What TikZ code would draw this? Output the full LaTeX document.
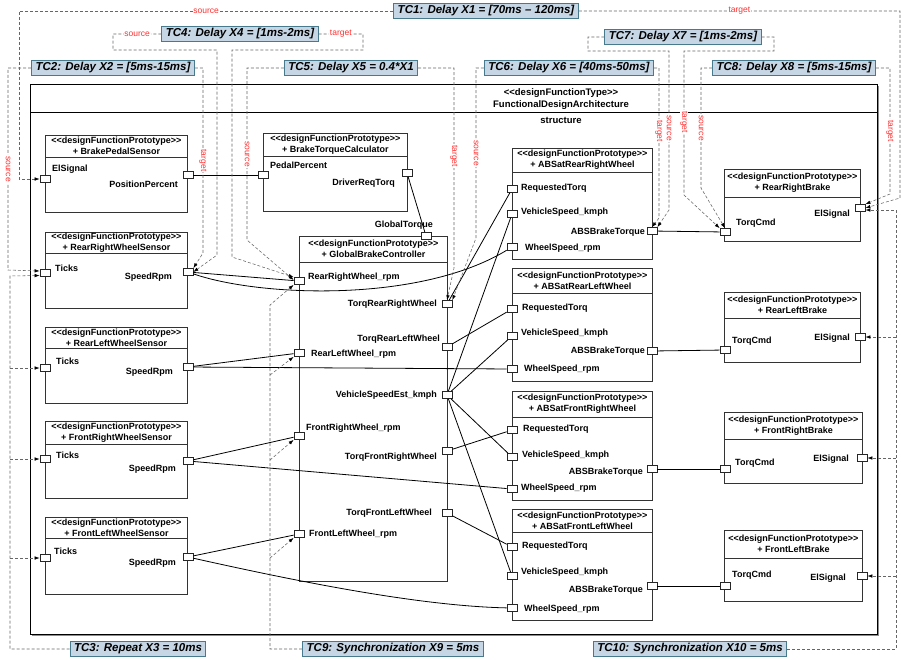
\documentclass[tikz,border=0pt]{standalone}
\usepackage{fontspec}
\setmainfont{Liberation Sans}
\usetikzlibrary{arrows.meta}
\definecolor{tcfill}{RGB}{199,214,228}
\definecolor{tcedge}{RGB}{72,122,142}
\definecolor{lblred}{RGB}{255,48,48}

\begin{document}
\begin{tikzpicture}[x=1pt, y=-1pt,
    every node/.style={font=\fontsize{9}{11}\selectfont\bfseries, inner sep=0pt},
    comp/.style={draw=black!80, line width=0.8pt, fill=white, anchor=north west, minimum width=142},
    sepline/.style={draw=black!80, line width=0.8pt},
    hd/.style={align=center},
    port/.style={draw=black!85, line width=0.7pt, fill=white, minimum width=10, minimum height=7},
    pl/.style={anchor=west, text height=6.6pt, text depth=1.9pt},
    pr/.style={anchor=east, text height=6.6pt, text depth=1.9pt},
    wire/.style={draw=black, line width=0.8pt},
    tc/.style={draw=tcedge, fill=tcfill, line width=1pt, font=\fontsize{11.5}{13}\selectfont\bfseries\itshape, inner xsep=4pt, inner ysep=1pt, minimum height=15},
    tcl/.style={draw=black!60, line width=0.55pt, dash pattern=on 3pt off 2pt, -{Latex[length=5pt,width=3.5pt,color=black]}},
    lab/.style={font=\fontsize{8.5}{9}\selectfont, text=lblred, fill=white, inner sep=0.8pt},
    rlab/.style={lab, rotate=-90}
  ]
  \useasboundingbox (0,0) rectangle (901,659);

  \draw[black!45, line width=1.4pt] (878.5,86) -- (878.5,635.5) -- (32,635.5);
  \node[comp, draw=black, line width=1pt, minimum width=847, minimum height=550] (fda) at (30,84) {};
  \draw[sepline, draw=black, line width=1pt] ([yshift=-28pt]fda.north west) -- ([yshift=-28pt]fda.north east);
  \node[font=\fontsize{9.5}{12}\selectfont\bfseries, align=center] (fda-h) at (561,99) {<{}<designFunctionType>{}>\\FunctionalDesignArchitecture};
  \node[font=\fontsize{9.5}{12}\selectfont\bfseries] (fda-s) at (561,120) {structure};

  \node[comp, minimum height=77] (bps) at (45,135) {};
  \node[hd] (bps-h) at ([yshift=-11pt]bps.north) {<{}<designFunctionPrototype>{}>\\+ BrakePedalSensor};
  \draw[sepline] ([yshift=-22pt]bps.north west) -- ([yshift=-22pt]bps.north east);
  \node[comp, minimum width=144, minimum height=78] (btc) at (263,133) {};
  \node[hd] (btc-h) at ([yshift=-11.5pt]btc.north) {<{}<designFunctionPrototype>{}>\\+ BrakeTorqueCalculator};
  \draw[sepline] ([yshift=-23pt]btc.north west) -- ([yshift=-23pt]btc.north east);
  \node[comp, minimum width=148, minimum height=345] (gbc) at (299,236) {};
  \node[hd] (gbc-h) at ([yshift=-13pt]gbc.north) {<{}<designFunctionPrototype>{}>\\+ GlobalBrakeController};
  \draw[sepline] ([yshift=-26pt]gbc.north west) -- ([yshift=-26pt]gbc.north east);

  \node[comp, minimum height=76] (rrws) at (45,232) {};
  \node[hd] (rrws-h) at ([yshift=-10.5pt]rrws.north) {<{}<designFunctionPrototype>{}>\\+ RearRightWheelSensor};
  \draw[sepline] ([yshift=-21pt]rrws.north west) -- ([yshift=-21pt]rrws.north east);
  \node[comp, minimum height=76] (rlws) at (45,327) {};
  \node[hd] (rlws-h) at ([yshift=-10.5pt]rlws.north) {<{}<designFunctionPrototype>{}>\\+ RearLeftWheelSensor};
  \draw[sepline] ([yshift=-21pt]rlws.north west) -- ([yshift=-21pt]rlws.north east);
  \node[comp, minimum height=77] (frws) at (45,421) {};
  \node[hd] (frws-h) at ([yshift=-11.5pt]frws.north) {<{}<designFunctionPrototype>{}>\\+ FrontRightWheelSensor};
  \draw[sepline] ([yshift=-23pt]frws.north west) -- ([yshift=-23pt]frws.north east);
  \node[comp, minimum height=77] (flws) at (45,517) {};
  \node[hd] (flws-h) at ([yshift=-10.5pt]flws.north) {<{}<designFunctionPrototype>{}>\\+ FrontLeftWheelSensor};
  \draw[sepline] ([yshift=-21pt]flws.north west) -- ([yshift=-21pt]flws.north east);

  \node[comp, minimum width=140, minimum height=111] (absrr) at (512,148) {};
  \node[hd] (absrr-h) at ([yshift=-12pt]absrr.north) {<{}<designFunctionPrototype>{}>\\+ ABSatRearRightWheel};
  \draw[sepline] ([yshift=-24pt]absrr.north west) -- ([yshift=-24pt]absrr.north east);
  \node[comp, minimum width=140, minimum height=113] (absrl) at (512,268) {};
  \node[hd] (absrl-h) at ([yshift=-12.5pt]absrl.north) {<{}<designFunctionPrototype>{}>\\+ ABSatRearLeftWheel};
  \draw[sepline] ([yshift=-25pt]absrl.north west) -- ([yshift=-25pt]absrl.north east);
  \node[comp, minimum width=140, minimum height=109] (absfr) at (512,391) {};
  \node[hd] (absfr-h) at ([yshift=-13pt]absfr.north) {<{}<designFunctionPrototype>{}>\\+ ABSatFrontRightWheel};
  \draw[sepline] ([yshift=-26pt]absfr.north west) -- ([yshift=-26pt]absfr.north east);
  \node[comp, minimum width=140, minimum height=111] (absfl) at (512,509) {};
  \node[hd] (absfl-h) at ([yshift=-11.5pt]absfl.north) {<{}<designFunctionPrototype>{}>\\+ ABSatFrontLeftWheel};
  \draw[sepline] ([yshift=-23pt]absfl.north west) -- ([yshift=-23pt]absfl.north east);

  \node[comp, minimum width=136, minimum height=72] (rrb) at (724,169) {};
  \node[hd] (rrb-h) at ([yshift=-14pt]rrb.north) {<{}<designFunctionPrototype>{}>\\+ RearRightBrake};
  \draw[sepline] ([yshift=-28pt]rrb.north west) -- ([yshift=-28pt]rrb.north east);
  \node[comp, minimum width=136, minimum height=70] (rlb) at (724,292) {};
  \node[hd] (rlb-h) at ([yshift=-13pt]rlb.north) {<{}<designFunctionPrototype>{}>\\+ RearLeftBrake};
  \draw[sepline] ([yshift=-26pt]rlb.north west) -- ([yshift=-26pt]rlb.north east);
  \node[comp, minimum width=138, minimum height=71] (frb) at (724,412) {};
  \node[hd] (frb-h) at ([yshift=-13.5pt]frb.north) {<{}<designFunctionPrototype>{}>\\+ FrontRightBrake};
  \draw[sepline] ([yshift=-27pt]frb.north west) -- ([yshift=-27pt]frb.north east);
  \node[comp, minimum width=138, minimum height=71] (flb) at (724,530) {};
  \node[hd] (flb-h) at ([yshift=-14pt]flb.north) {<{}<designFunctionPrototype>{}>\\+ FrontLeftBrake};
  \draw[sepline] ([yshift=-28pt]flb.north west) -- ([yshift=-28pt]flb.north east);

  \node[port] (bps-in) at (45,179) {};
  \node[port] (bps-out) at (188,175) {};
  \node[port] (btc-in) at (263,175) {};
  \node[port] (btc-out) at (407,173) {};
  \node[port] (gbc-gt) at (426,236) {};
  \node[port] (gbc-rr) at (299,281) {};
  \node[port] (gbc-trr) at (447,304) {};
  \node[port] (gbc-rl) at (299,353) {};
  \node[port] (gbc-trl) at (447,347) {};
  \node[port] (gbc-vse) at (447,395) {};
  \node[port] (gbc-fr) at (299,436) {};
  \node[port] (gbc-tfr) at (447,451) {};
  \node[port] (gbc-tfl) at (447,513) {};
  \node[port] (gbc-fl) at (299,534) {};
  \node[port] (rrws-in) at (45,273) {};
  \node[port] (rrws-out) at (188,272) {};
  \node[port] (rlws-in) at (45,368) {};
  \node[port] (rlws-out) at (188,367) {};
  \node[port] (frws-in) at (45,459) {};
  \node[port] (frws-out) at (188,461) {};
  \node[port] (flws-in) at (45,558) {};
  \node[port] (flws-out) at (188,557) {};
  \node[port] (absrr-rt) at (512,189) {};
  \node[port] (absrr-vs) at (512,214) {};
  \node[port] (absrr-ws) at (512,247) {};
  \node[port] (absrr-out) at (652,231) {};
  \node[port] (absrl-rt) at (512,309) {};
  \node[port] (absrl-vs) at (512,336) {};
  \node[port] (absrl-ws) at (512,369) {};
  \node[port] (absrl-out) at (652,351) {};
  \node[port] (absfr-rt) at (512,430) {};
  \node[port] (absfr-vs) at (512,457) {};
  \node[port] (absfr-ws) at (512,489) {};
  \node[port] (absfr-out) at (652,469) {};
  \node[port] (absfl-rt) at (512,547) {};
  \node[port] (absfl-vs) at (512,576) {};
  \node[port] (absfl-ws) at (512,608) {};
  \node[port] (absfl-out) at (652,586) {};
  \node[port] (rrb-tq) at (725,232) {};
  \node[port] (rrb-el) at (860,208) {};
  \node[port] (rlb-tq) at (725,350) {};
  \node[port] (rlb-el) at (860,337) {};
  \node[port] (frb-tq) at (725,469) {};
  \node[port] (frb-el) at (862,458) {};
  \node[port] (flb-tq) at (725,586) {};
  \node[port] (flb-el) at (862,576) {};

  \node[pl] (bps-in-l) at (52,169) {ElSignal};
  \node[pr] (bps-out-l) at (178,185) {PositionPercent};
  \node[pl] (btc-in-l) at (270,166) {PedalPercent};
  \node[pr] (btc-out-l) at (395,183) {DriverReqTorq};
  \node[pr] (gbc-gt-l) at (433,225) {GlobalTorque};
  \node[pl] (gbc-rr-l) at (308,277) {RearRightWheel\_rpm};
  \node[pr] (gbc-trr-l) at (437,304) {TorqRearRightWheel};
  \node[pl] (gbc-rl-l) at (311,354) {RearLeftWheel\_rpm};
  \node[pr] (gbc-trl-l) at (440,339) {TorqRearLeftWheel};
  \node[pr] (gbc-vse-l) at (437,395) {VehicleSpeedEst\_kmph};
  \node[pl] (gbc-fr-l) at (306,428) {FrontRightWheel\_rpm};
  \node[pr] (gbc-tfr-l) at (437,457) {TorqFrontRightWheel};
  \node[pr] (gbc-tfl-l) at (432,513) {TorqFrontLeftWheel};
  \node[pl] (gbc-fl-l) at (309,534) {FrontLeftWheel\_rpm};
  \node[pl] (rrws-in-l) at (55,269) {Ticks};
  \node[pr] (rrws-out-l) at (172,277) {SpeedRpm};
  \node[pl] (rlws-in-l) at (56,362) {Ticks};
  \node[pr] (rlws-out-l) at (173,372) {SpeedRpm};
  \node[pl] (frws-in-l) at (56,456) {Ticks};
  \node[pr] (frws-out-l) at (176,469) {SpeedRpm};
  \node[pl] (flws-in-l) at (54,552) {Ticks};
  \node[pr] (flws-out-l) at (176,563) {SpeedRpm};
  \node[pl] (absrr-rt-l) at (521,188) {RequestedTorq};
  \node[pl] (absrr-vs-l) at (521,212) {VehicleSpeed\_kmph};
  \node[pl] (absrr-ws-l) at (525,248) {WheelSpeed\_rpm};
  \node[pr] (absrr-out-l) at (645,232) {ABSBrakeTorque};
  \node[pl] (absrl-rt-l) at (522,308) {RequestedTorq};
  \node[pl] (absrl-vs-l) at (521,333) {VehicleSpeed\_kmph};
  \node[pl] (absrl-ws-l) at (524,369) {WheelSpeed\_rpm};
  \node[pr] (absrl-out-l) at (645,351) {ABSBrakeTorque};
  \node[pl] (absfr-rt-l) at (523,429) {RequestedTorq};
  \node[pl] (absfr-vs-l) at (522,455) {VehicleSpeed\_kmph};
  \node[pl] (absfr-ws-l) at (521,488) {WheelSpeed\_rpm};
  \node[pr] (absfr-out-l) at (643,472) {ABSBrakeTorque};
  \node[pl] (absfl-rt-l) at (522,546) {RequestedTorq};
  \node[pl] (absfl-vs-l) at (521,572) {VehicleSpeed\_kmph};
  \node[pl] (absfl-ws-l) at (524,609) {WheelSpeed\_rpm};
  \node[pr] (absfl-out-l) at (643,590) {ABSBrakeTorque};
  \node[pl] (rrb-tq-l) at (736,223) {TorqCmd};
  \node[pr] (rrb-el-l) at (850,214) {ElSignal};
  \node[pl] (rlb-tq-l) at (732,341) {TorqCmd};
  \node[pr] (rlb-el-l) at (850,338) {ElSignal};
  \node[pl] (frb-tq-l) at (735,463) {TorqCmd};
  \node[pr] (frb-el-l) at (849,459) {ElSignal};
  \node[pl] (flb-tq-l) at (732,575) {TorqCmd};
  \node[pr] (flb-el-l) at (846,578) {ElSignal};

  \node[tc] (tc1) at (486,11) {TC1: Delay X1 = [70ms – 120ms]};
  \node[tc] (tc2) at (113,68) {TC2: Delay X2 = [5ms-15ms]};
  \node[tc] (tc3) at (138,649) {TC3: Repeat X3 = 10ms};
  \node[tc] (tc4) at (240,34) {TC4: Delay X4 = [1ms-2ms]};
  \node[tc] (tc5) at (351,68) {TC5: Delay X5 = 0.4*X1};
  \node[tc] (tc6) at (569,68) {TC6: Delay X6 = [40ms-50ms]};
  \node[tc] (tc7) at (683,37) {TC7: Delay X7 = [1ms-2ms]};
  \node[tc] (tc8) at (794,68) {TC8: Delay X8 = [5ms-15ms]};
  \node[tc] (tc9) at (393,649) {TC9: Synchronization X9 = 5ms};
  \node[tc] (tc10) at (690,649) {TC10: Synchronization X10 = 5ms};

  \begin{scope}[wire]
    \draw (bps-out) -- (btc-in);
    \draw (btc-out) -- (gbc-gt);
    \draw (rrws-out) -- (gbc-rr);
    \draw (rrws-out) .. controls (260,297) and (420,303) .. (absrr-ws);
    \draw (rlws-out) -- (gbc-rl);
    \draw (rlws-out) -- (absrl-ws);
    \draw (frws-out) -- (gbc-fr);
    \draw (frws-out) -- (absfr-ws);
    \draw (flws-out) -- (gbc-fl);
    \draw (flws-out) .. controls (300,582) and (420,606) .. (absfl-ws);
    \draw (gbc-trr) -- (absrr-rt);
    \draw (gbc-trl) -- (absrl-rt);
    \draw (gbc-tfr) -- (absfr-rt);
    \draw (gbc-tfl) -- (absfl-rt);
    \draw (gbc-vse) -- (absrr-vs);
    \draw (gbc-vse) -- (absrl-vs);
    \draw (gbc-vse) -- (absfr-vs);
    \draw (gbc-vse) -- (absfl-vs);
    \draw (absrr-out) -- (rrb-tq);
    \draw (absrl-out) -- (rlb-tq);
    \draw (absfr-out) -- (frb-tq);
    \draw (absfl-out) -- (flb-tq);
  \end{scope}

  \draw[tcl] (tc1.west) -- node[lab]{source} (19,11) |- (bps-in);
  \draw[tcl] (tc1.east) -- node[lab]{target} (900,11) -- (900,198) -- (rrb-el.east);
  \draw[tcl] (tc2.west) -- (8,68) -- node[rlab]{source} (8,270) -- ([yshift=2pt]rrws-in.west);
  \draw[tcl] (tc2.east) -- (203,68) -- node[rlab]{target} (203,253) -- (rrws-out.north east);
  \draw[tcl] (tc4.west) -- node[lab]{source} (113,34) -- (113,50) -- (217,50) -- (217,255) -- (rrws-out.east);
  \draw[tcl] (tc4.east) -- node[lab]{target} (363,34) -- (363,50) -- (232,50) -- (232,257) -- (gbc-rr.north west);
  \draw[tcl] (tc5.west) -- (247,68) -- node[rlab]{source} (247,240) -- ([yshift=1pt]gbc-rr.west);
  \draw[tcl] (tc5.east) -- (454,68) -- node[rlab]{target} (454,244) -- (454,268) -- (gbc-trr.north);
  \draw[tcl] (tc6.west) -- (476,68) -- node[rlab]{source} (476,238) -- (gbc-trr.north east);
  \draw[tcl] (tc6.east) -- (659,68) -- node[rlab]{target} (659,194) -- (659,218) -- (absrr-out.north);
  \draw[tcl] (tc7.west) -- (588,37) -- (588,51) -- (669,51) -- node[rlab]{source} (669,205) -- (669,210) -- (absrr-out.north east);
  \draw[tcl] (tc7.east) -- (774,37) -- (774,51) -- (684,51) -- node[rlab]{target} (684,193) -- (684,195) -- (rrb-tq.north west);
  \draw[tcl] (tc8.west) -- (701,68) -- node[rlab]{source} (701,188) -- (rrb-tq.north);
  \draw[tcl] (tc8.east) -- (890,68) -- node[rlab]{target} (890,194) -- (rrb-el.north east);

  \coordinate (t3) at (10,276);
  \draw[tcl] (tc3.west) -| (t3) -- ([yshift=-2.5pt]rrws-in.west);
  \draw[tcl] (t3 |- rlws-in) -- (rlws-in);
  \draw[tcl] (t3 |- frws-in) -- (frws-in);
  \draw[tcl] (t3 |- flws-in) -- (flws-in);

  \coordinate (t9) at (270,305);
  \draw[tcl] (tc9.west) -| (t9) -- (gbc-rr.south west);
  \draw[tcl] (270,375) -- (gbc-rl.south west);
  \draw[tcl] (270,460) -- (gbc-fr.south west);
  \draw[tcl] (270,558) -- (gbc-fl.south west);

  \coordinate (t10) at (896,210);
  \draw[tcl] (tc10.east) -| (t10) -- ([yshift=-2pt]rrb-el.east);
  \draw[tcl] (t10 |- rlb-el) -- (rlb-el);
  \draw[tcl] (t10 |- frb-el) -- (frb-el);
  \draw[tcl] (t10 |- flb-el) -- (flb-el);
\end{tikzpicture}
\end{document}
